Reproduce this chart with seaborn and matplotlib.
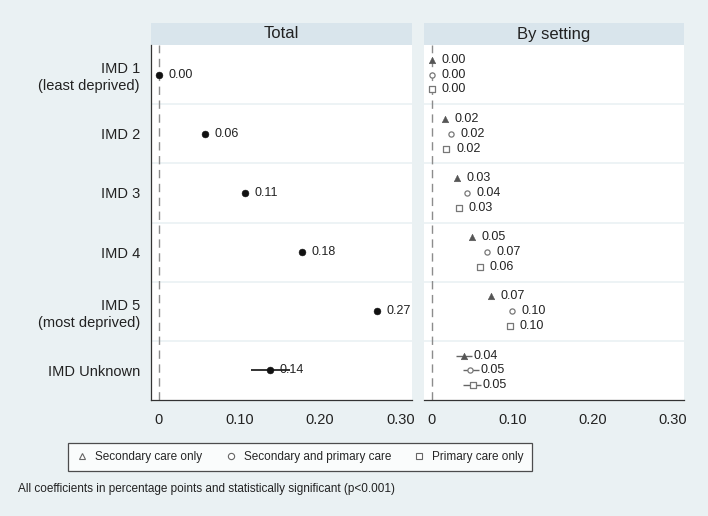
import numpy as np
import pandas as pd
import matplotlib
matplotlib.use("Agg")
import matplotlib.pyplot as plt
from matplotlib.patches import Rectangle
from matplotlib.lines import Line2D
import seaborn as sns

# --- data ---
categories = ["IMD 1\n(least deprived)", "IMD 2", "IMD 3", "IMD 4",
              "IMD 5\n(most deprived)", "IMD Unknown"]
total = [0.0, 0.057, 0.107, 0.177, 0.270, 0.138]
total_lo = [0.0, 0.057, 0.107, 0.177, 0.270, 0.114]
total_hi = [0.0, 0.057, 0.107, 0.177, 0.270, 0.162]

settings = ["Secondary care only", "Secondary and primary care", "Primary care only"]
secondary = [0.0, 0.016, 0.031, 0.050, 0.073, 0.040]
both = [0.0, 0.024, 0.044, 0.068, 0.100, 0.048]
primary = [0.0, 0.018, 0.034, 0.060, 0.097, 0.051]
secondary_lo = [0.0, 0.016, 0.031, 0.050, 0.073, 0.030]
secondary_hi = [0.0, 0.016, 0.031, 0.050, 0.073, 0.050]
both_lo = [0.0, 0.024, 0.044, 0.068, 0.100, 0.039]
both_hi = [0.0, 0.024, 0.044, 0.068, 0.100, 0.059]
primary_lo = [0.0, 0.018, 0.034, 0.060, 0.097, 0.039]
primary_hi = [0.0, 0.018, 0.034, 0.060, 0.097, 0.061]

xticks = [0, 0.1, 0.2, 0.3]
xticklabels = ["0", "0.10", "0.20", "0.30"]
note = "All coefficients in percentage points and statistically significant (p<0.001)"

sns.set_theme(style="white")
plt.rcParams["font.family"] = ["Liberation Sans", "DejaVu Sans"]

BG = "#eaf1f3"
STRIP = "#d9e5ec"
W, H = 708, 516

fig = plt.figure(figsize=(W / 100, H / 100), dpi=100, facecolor=BG)


def px_axes(x0, x1, y0, y1):
    return fig.add_axes([x0 / W, 1 - y1 / H, (x1 - x0) / W, (y1 - y0) / H])


ax1 = px_axes(151, 412, 45, 400)
ax2 = px_axes(424, 684, 45, 400)

rows = np.arange(len(categories))
df_total = pd.DataFrame({"row": rows, "est": total, "lo": total_lo, "hi": total_hi})

offsets = [-0.25, 0.0, 0.25]
vals = [secondary, both, primary]
los = [secondary_lo, both_lo, primary_lo]
his = [secondary_hi, both_hi, primary_hi]
df_set = pd.concat([
    pd.DataFrame({"row": rows + off, "est": v, "lo": lo, "hi": hi, "setting": s})
    for s, off, v, lo, hi in zip(settings, offsets, vals, los, his)
], ignore_index=True)

for ax, title in [(ax1, "Total"), (ax2, "By setting")]:
    ax.set_facecolor("white")
    ax.set_xlim(-0.0099, 0.314)
    ax.set_ylim(5.5, -0.5)
    for b in np.arange(0.5, 5.5, 1):
        ax.axhline(b, color=BG, lw=1.2, zorder=0)
    ax.axvline(0, color="#8c8c8c", lw=1, ls=(0, (6, 4)), zorder=1)
    ax.set_xticks(xticks)
    ax.set_xticklabels(xticklabels, fontsize=10.5, color="#222222")
    ax.tick_params(axis="x", direction="out", length=5, width=0.8, color="#333333", pad=4)
    for sp in ["top", "right"]:
        ax.spines[sp].set_visible(False)
    ax.spines["bottom"].set_color("#333333")
    ax.spines["bottom"].set_linewidth(0.9)
    ax.add_patch(Rectangle((0, 1), 1, 22 / 355, transform=ax.transAxes,
                           facecolor=STRIP, edgecolor="none", clip_on=False))
    ax.text(0.5, 1 + 11 / 355, title, transform=ax.transAxes, ha="center",
            va="center", fontsize=12, color="#222222")

# Total panel
ax1.hlines(df_total["row"], df_total["lo"], df_total["hi"], color="#111111", lw=1.2, zorder=2)
sns.scatterplot(data=df_total, x="est", y="row", ax=ax1, color="#111111",
                s=24, edgecolor="#111111", zorder=3, legend=False)
for _, r in df_total.iterrows():
    ax1.annotate(f"{r['est']:.2f}", (r["est"], r["row"]), xytext=(7, 0),
                 textcoords="offset points", va="center", fontsize=9, color="#222222")
ax1.set_yticks(rows)
ax1.set_yticklabels(categories, fontsize=10.5, color="#222222", linespacing=1.3)
ax1.tick_params(axis="y", direction="out", length=5, width=0.8, color="#333333", pad=3)
ax1.spines["left"].set_color("#333333")
ax1.spines["left"].set_linewidth(0.9)
ax1.set_xlabel("")
ax1.set_ylabel("")

# By setting panel
ax2.hlines(df_set["row"], df_set["lo"], df_set["hi"], color="#666666", lw=1.0, zorder=2)
markers = {settings[0]: "^", settings[1]: "o", settings[2]: "s"}
styles = {settings[0]: dict(s=22, color="#555555", edgecolor="#555555"),
          settings[1]: dict(s=14, facecolor="white", edgecolor="#777777", linewidth=0.9),
          settings[2]: dict(s=16, facecolor="white", edgecolor="#777777", linewidth=0.9)}
for s in settings:
    sub = df_set[df_set["setting"] == s]
    sns.scatterplot(data=sub, x="est", y="row", ax=ax2, marker=markers[s],
                    zorder=3, legend=False, **styles[s])
for _, r in df_set.iterrows():
    ax2.annotate(f"{r['est']:.2f}", (r["est"], r["row"]), xytext=(7, 0),
                 textcoords="offset points", va="center", fontsize=9, color="#222222")
ax2.set_yticks([])
ax2.spines["left"].set_visible(False)
ax2.set_xlabel("")
ax2.set_ylabel("")

# Legend
handles = [Line2D([], [], ls="none", marker=markers[s], markersize=4.5,
                  markerfacecolor="white", markeredgecolor="#666666", markeredgewidth=0.8)
           for s in settings]
leg = fig.legend(handles, settings, ncol=3, loc="center",
                 bbox_to_anchor=(300 / W, 1 - 457 / H), fontsize=8.5,
                 frameon=True, fancybox=False, edgecolor="#222222",
                 handletextpad=0.6, columnspacing=1.9, handlelength=1.0,
                 borderpad=0.7)
leg.get_frame().set_linewidth(0.9)
leg.get_frame().set_facecolor("white")

fig.text(18 / W, 1 - 489 / H, note, fontsize=8.5, color="#222222", va="center")

fig.savefig("out.png", dpi=100, facecolor=BG)
